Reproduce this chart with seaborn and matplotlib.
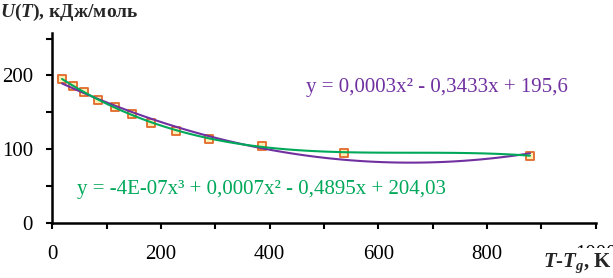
import numpy as np
import pandas as pd
import matplotlib
matplotlib.use("Agg")
import matplotlib.pyplot as plt
from matplotlib.ticker import MultipleLocator
import seaborn as sns

# ── Data ────────────────────────────────────────────────────────────────────
dT = [18, 39, 59, 85, 115, 147, 182, 227, 288, 385, 537, 879]        # T-Tg, K
U = [195, 186, 177, 167, 157, 147.5, 136, 125, 114, 105, 95.4, 91.3]  # kJ/mol
eq_quad = "y = 0,0003x\u00b2 - 0,3433x + 195,6"
eq_cubic = "y = -4E-07x\u00b3 + 0,0007x\u00b2 - 0,4895x + 204,03"

df = pd.DataFrame({"dT": dT, "U": U})

sns.set_theme(style="ticks")
plt.rcParams["font.family"] = ["Liberation Serif", "DejaVu Serif"]
plt.rcParams["mathtext.fontset"] = "custom"
plt.rcParams["mathtext.rm"] = "Liberation Serif:bold"
plt.rcParams["mathtext.it"] = "Liberation Serif:bold:italic"
plt.rcParams["mathtext.bf"] = "Liberation Serif:bold"

PURPLE = "#7030A0"
GREEN = "#00A85A"

fig = plt.figure(figsize=(6.13, 2.78), dpi=100)
ax = fig.add_axes([0.0853, 0.1978, 0.8865, 0.6846])

sns.scatterplot(data=df, x="dT", y="U", marker="s", s=40, facecolor="#FCEFB4",
                edgecolor="#E2692A", linewidth=1.3, ax=ax, zorder=2)
sns.regplot(data=df, x="dT", y="U", order=2, ci=None, scatter=False,
            line_kws=dict(color=PURPLE, lw=1.5, zorder=3), ax=ax)
sns.regplot(data=df, x="dT", y="U", order=3, ci=None, scatter=False,
            line_kws=dict(color=GREEN, lw=1.5, zorder=4), ax=ax)

ax.set_xlim(0, 1000)
ax.set_ylim(0, 258)
ax.xaxis.set_major_locator(MultipleLocator(200))
ax.xaxis.set_minor_locator(MultipleLocator(100))
ax.yaxis.set_major_locator(MultipleLocator(100))
ax.yaxis.set_minor_locator(MultipleLocator(50))
ax.tick_params(which="both", direction="out", length=4, width=1.5, color="black")
ax.tick_params(axis="both", which="major", labelsize=15, colors="black")
ax.tick_params(axis="x", pad=12)
ax.tick_params(axis="y", pad=10)
ax.set_xlabel("")
ax.set_ylabel("")
for side in ["top", "right"]:
    ax.spines[side].set_visible(False)
for side in ["left", "bottom"]:
    ax.spines[side].set_linewidth(1.8)
    ax.spines[side].set_color("black")

# the last x label sits behind the axis title in the reference, only faintly visible
xt = ax.get_xticklabels()
xt[-1].set_color("#DDDDDD")

ax.text(0.466, 0.71, eq_quad, transform=ax.transAxes, color=PURPLE, fontsize=15,
        va="center", ha="left")
ax.text(0.045, 0.175, eq_cubic, transform=ax.transAxes, color=GREEN, fontsize=15,
        va="center", ha="left")

fig.text(0.0, 1 - 12 / 278, r"$U(T)$, кДж/моль", fontsize=14, fontweight="bold",
         va="center", ha="left")
fig.text(0.998, 1 - 263 / 278, r"$T$-$T_g$, K", fontsize=15, fontweight="bold",
         va="center", ha="right",
         bbox=dict(facecolor="white", edgecolor="none", pad=2.5))

plt.savefig("out.png", dpi=100)
